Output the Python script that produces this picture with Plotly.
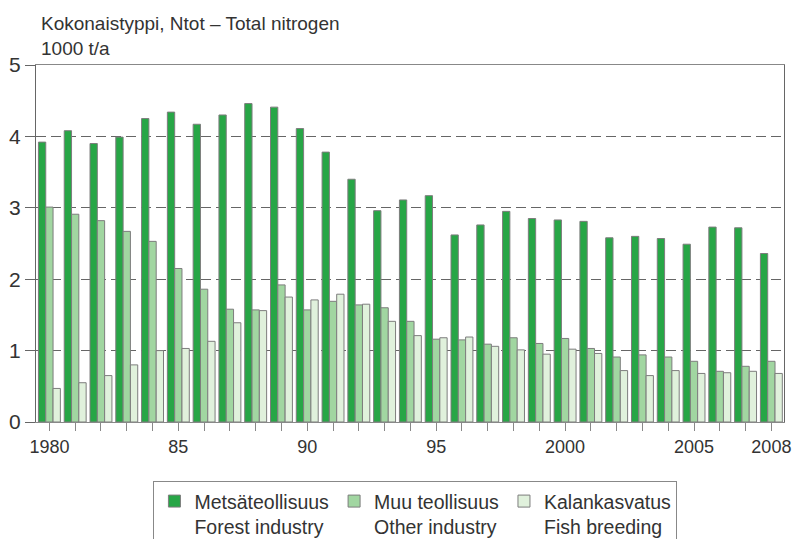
import plotly.graph_objects as go

years = list(range(1980, 2009))
forest = [3.92, 4.08, 3.90, 3.99, 4.25, 4.34, 4.17, 4.30, 4.46, 4.41,
          4.11, 3.78, 3.40, 2.96, 3.11, 3.17, 2.62, 2.76, 2.95, 2.85,
          2.83, 2.81, 2.58, 2.60, 2.57, 2.49, 2.73, 2.72, 2.36]
other = [3.01, 2.91, 2.82, 2.67, 2.53, 2.15, 1.86, 1.58, 1.57, 1.92,
         1.57, 1.69, 1.64, 1.60, 1.41, 1.16, 1.15, 1.09, 1.18, 1.10,
         1.17, 1.03, 0.91, 0.94, 0.91, 0.85, 0.71, 0.78, 0.85]
fish = [0.47, 0.55, 0.65, 0.80, 1.00, 1.03, 1.13, 1.39, 1.56, 1.75,
        1.71, 1.79, 1.65, 1.41, 1.21, 1.18, 1.19, 1.06, 1.01, 0.95,
        1.02, 0.96, 0.72, 0.65, 0.72, 0.68, 0.69, 0.71, 0.68]
series_names = ["Metsäteollisuus<br>Forest industry",
                "Muu teollisuus<br>Other industry",
                "Kalankasvatus<br>Fish breeding"]
colors = ["#27a646", "#a1d6a1", "#e0f1dc"]
labeled = {1980: "1980", 1985: "85", 1990: "90", 1995: "95",
           2000: "2000", 2005: "2005", 2008: "2008"}
tick_text = [labeled.get(y, "") for y in years]

font = "Liberation Sans, Arial, sans-serif"

fig = go.Figure()
for name, vals, col in zip(series_names, [forest, other, fish], colors):
    fig.add_trace(go.Bar(
        x=years, y=vals, name=name,
        marker=dict(color=col, line=dict(color="#7d7d7d", width=1)),
    ))

fig.update_layout(
    width=794, height=539,
    margin=dict(l=36, r=10, t=65, b=117, autoexpand=False),
    barmode="group", bargap=0.15, bargroupgap=0,
    plot_bgcolor="white", paper_bgcolor="white",
    font=dict(family=font, color="#333333", size=19),
    showlegend=True,
    legend=dict(
        orientation="h", x=0.157, xanchor="left", y=-0.165, yanchor="top",
        bordercolor="#888888", borderwidth=1, valign="top",
        font=dict(size=19.5, family=font, color="#333333"),
        traceorder="normal", tracegroupgap=0,
    ),
    annotations=[dict(
        text="Kokonaistyppi, Ntot – Total nitrogen<br>1000 t/a",
        xref="paper", yref="paper", x=0.004, y=1, xanchor="left",
        yanchor="bottom", yshift=4, align="left", showarrow=False,
        font=dict(size=19, family=font, color="#333333"),
    )],
)
fig.update_xaxes(
    range=[1979.48, 2008.49],
    tickmode="array", tickvals=years, ticktext=tick_text,
    ticks="outside", ticklen=8, tickcolor="#888888",
    showline=True, linecolor="#888888", linewidth=1, mirror=True,
    showgrid=False, tickfont=dict(size=18),
)
fig.update_yaxes(
    range=[0, 5], tickvals=[0, 1, 2, 3, 4, 5],
    ticks="outside", ticklen=10, tickcolor="#666666",
    showline=True, linecolor="#666666", linewidth=1, mirror=True,
    showgrid=True, gridcolor="#666666", gridwidth=1, griddash="10px,5px",
    zeroline=False, tickfont=dict(size=21),
)
fig.write_html("out.html",
               config={"displayModeBar": False},
               post_script="document.body.style.margin='0px';document.body.style.overflow='hidden';")
